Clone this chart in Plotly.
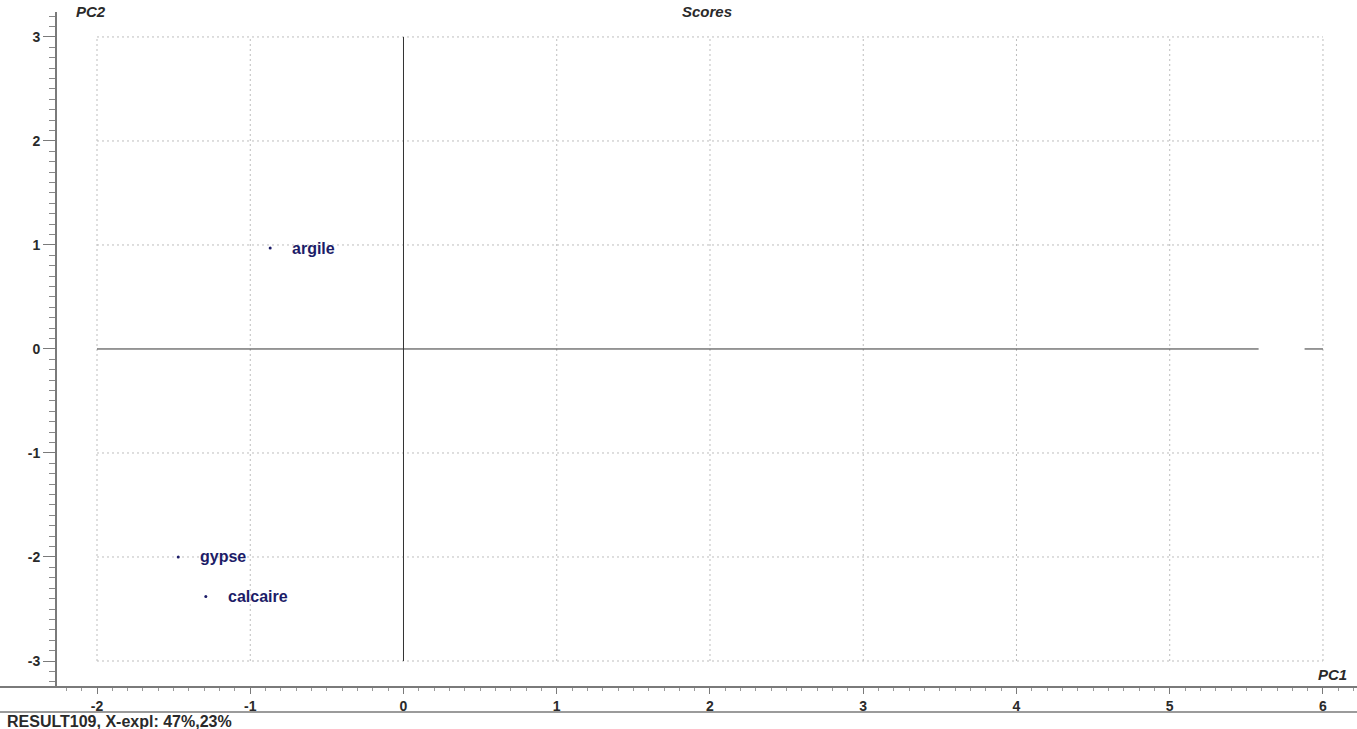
import plotly.graph_objects as go

# PCA scores (PC1, PC2) for each sample
samples = ["argile", "gypse", "calcaire"]
pc1 = [-0.87, -1.47, -1.29]
pc2 = [0.97, -2.0, -2.38]

# Axis ticks and grid extents
x_ticks = [-2, -1, 0, 1, 2, 3, 4, 5, 6]
y_ticks = [-3, -2, -1, 0, 1, 2, 3]

title_text = "Scores"
x_title = "PC1"
y_title = "PC2"
footer_text = "RESULT109, X-expl: 47%,23%"

W, H = 1357, 729
ML, MR, MT, MB = 57, 0, 12, 42
x_range = [-2.261, 6.222]
y_range = [-3.25, 3.24]

navy = "#1c1c68"
grid_col = "#bdbdbd"
axis_col = "#7a7a7a"
text_col = "#2a2a2a"
font_family = "Liberation Sans, Arial, sans-serif"

fig = go.Figure()

# dotted grid confined to the tick extents
x_lo, x_hi = min(x_ticks), max(x_ticks)
y_lo, y_hi = min(y_ticks), max(y_ticks)
for xv in x_ticks:
    if xv == 0:
        continue
    fig.add_trace(go.Scatter(x=[xv, xv], y=[y_lo, y_hi], mode="lines",
                             line=dict(color=grid_col, width=1, dash="2px,3px"),
                             hoverinfo="skip", showlegend=False))
for yv in y_ticks:
    if yv == 0:
        continue
    fig.add_trace(go.Scatter(x=[x_lo, x_hi], y=[yv, yv], mode="lines",
                             line=dict(color=grid_col, width=1, dash="2px,3px"),
                             hoverinfo="skip", showlegend=False))

# solid zero lines
fig.add_trace(go.Scatter(x=[0, 0], y=[y_lo, y_hi], mode="lines",
                         line=dict(color="#333333", width=1),
                         hoverinfo="skip", showlegend=False))
fig.add_trace(go.Scatter(x=[x_lo, x_hi], y=[0, 0], mode="lines",
                         line=dict(color="#333333", width=1),
                         hoverinfo="skip", showlegend=False))

# sample points
fig.add_trace(go.Scatter(x=pc1, y=pc2, mode="markers",
                         marker=dict(color=navy, size=3),
                         text=samples, hoverinfo="text", showlegend=False))

annotations = []
for name, xv, yv in zip(samples, pc1, pc2):
    annotations.append(dict(x=xv, y=yv, xref="x", yref="y", text=name,
                            showarrow=False, xanchor="left", yanchor="middle",
                            xshift=20,
                            font=dict(family=font_family, size=16, color=navy,
                                      weight="bold")))

annotations += [
    dict(x=(707 - ML) / (W - ML - MR), y=1.0, xref="paper", yref="paper",
         text=f"<i>{title_text}</i>", showarrow=False, xanchor="center",
         yanchor="middle", yshift=1,
         font=dict(family=font_family, size=15, color=text_col,
                   weight="bold")),
    dict(x=(74 - ML) / (W - ML - MR), y=1.0, xref="paper", yref="paper",
         text=f"<i>{y_title}</i>", showarrow=False, xanchor="left",
         yanchor="middle", yshift=1,
         font=dict(family=font_family, size=15, color=text_col,
                   weight="bold")),
    dict(x=1.0, y=0.0, xref="paper", yref="paper",
         text=f"<i>{x_title}</i>", showarrow=False, xanchor="right",
         yanchor="bottom", xshift=-8, yshift=2,
         font=dict(family=font_family, size=15, color=text_col,
                   weight="bold")),
    dict(x=-ML / (W - ML - MR), y=0.0, xref="paper", yref="paper",
         text=footer_text, showarrow=False, xanchor="left",
         yanchor="middle", xshift=5, yshift=-34,
         font=dict(family=font_family, size=16, color=text_col,
                   weight="bold")),
]

shapes = [
    # baseline under the plot, running the full width
    dict(type="line", xref="paper", yref="paper",
         x0=-ML / (W - ML - MR), x1=1.0, y0=0, y1=0,
         line=dict(color=axis_col, width=2)),
    # separator above the footer line
    dict(type="line", xref="paper", yref="paper",
         x0=-ML / (W - ML - MR), x1=1.0, y0=-25 / (H - MT - MB),
         y1=-25 / (H - MT - MB), line=dict(color=axis_col, width=1.5)),
    # blank patch on the right end of the zero line
    dict(type="rect", xref="x", yref="y", x0=5.58, x1=5.88, y0=-0.08, y1=0.12,
         fillcolor="white", line=dict(width=0), layer="above"),
]

fig.update_layout(
    width=W, height=H,
    margin=dict(l=ML, r=MR, t=MT, b=MB, pad=0),
    paper_bgcolor="white", plot_bgcolor="white",
    showlegend=False,
    annotations=annotations,
    shapes=shapes,
    xaxis=dict(range=x_range, tickvals=x_ticks, ticktext=[str(v) for v in x_ticks],
               showgrid=False, zeroline=False, showline=False,
               ticks="outside", ticklen=6, tickcolor=axis_col, tickwidth=1,
               tickfont=dict(family=font_family, size=14, color=text_col,
                             weight="bold"),
               minor=dict(dtick=0.1, tick0=0, ticks="outside", ticklen=3,
                          tickcolor="#999999", showgrid=False),
               fixedrange=True),
    yaxis=dict(range=y_range, tickvals=y_ticks, ticktext=[str(v) for v in y_ticks],
               showgrid=False, zeroline=False, showline=True,
               linecolor=axis_col, linewidth=2,
               ticks="outside", ticklen=12, tickcolor=axis_col, tickwidth=1,
               tickfont=dict(family=font_family, size=14, color=text_col,
                             weight="bold"),
               minor=dict(dtick=0.1, tick0=0, ticks="outside", ticklen=6,
                          tickcolor="#888888", showgrid=False),
               fixedrange=True),
)

fig.write_html("out.html")
